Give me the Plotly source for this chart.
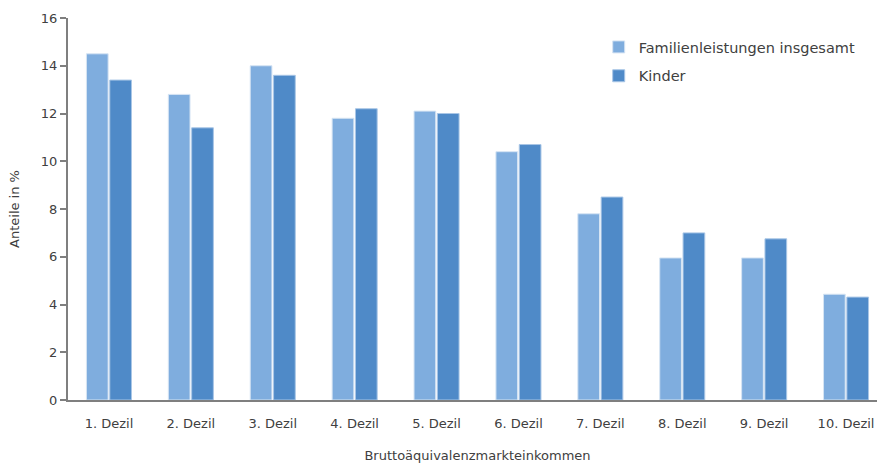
import plotly.graph_objects as go

categories = ["1. Dezil", "2. Dezil", "3. Dezil", "4. Dezil", "5. Dezil",
              "6. Dezil", "7. Dezil", "8. Dezil", "9. Dezil", "10. Dezil"]
familienleistungen = [14.5, 12.8, 14.0, 11.8, 12.1, 10.4, 7.8, 5.95, 5.95, 4.43]
kinder = [13.4, 11.4, 13.6, 12.2, 12.0, 10.7, 8.5, 7.0, 6.75, 4.31]
y_ticks = [0, 2, 4, 6, 8, 10, 12, 14, 16]

font_family = "'DejaVu Sans', Lato, sans-serif"
text_color = "#404040"
axis_color = "#7f7f7f"

fig = go.Figure()
fig.add_trace(go.Bar(
    x=categories, y=familienleistungen, name="Familienleistungen insgesamt",
    marker=dict(color="#7FADDE", line=dict(color="#D6E4F3", width=1)),
    legendgroup="a",
))
fig.add_trace(go.Bar(
    x=categories, y=kinder, name="Kinder",
    marker=dict(color="#4F8AC8", line=dict(color="#A9C6E6", width=1)),
    legendgroup="b",
))

fig.update_layout(
    width=887, height=463,
    margin=dict(l=68, r=0, t=18, b=63, autoexpand=False),
    plot_bgcolor="white", paper_bgcolor="white",
    barmode="group", bargap=0.43, bargroupgap=0.07,
    font=dict(family=font_family, size=13, color=text_color),
    showlegend=True,
    legend=dict(
        x=0.648, y=0.966, xanchor="left", yanchor="top",
        traceorder="grouped", tracegroupgap=7,
        font=dict(size=14.5, color=text_color),
        bgcolor="rgba(0,0,0,0)", itemwidth=30,
    ),
    xaxis=dict(
        automargin=False,
        showline=True, linecolor=axis_color, linewidth=2,
        ticks="outside", ticklen=10, tickcolor="rgba(0,0,0,0)",
        showgrid=False,
        tickfont=dict(size=13, color=text_color),
        title=dict(text="Bruttoäquivalenzmarkteinkommen", standoff=21,
                   font=dict(size=13, color=text_color)),
    ),
    yaxis=dict(
        automargin=False,
        range=[0, 16], tickvals=y_ticks,
        showline=True, linecolor=axis_color, linewidth=2,
        ticks="outside", ticklen=6, tickcolor=axis_color, tickwidth=2,
        showgrid=False, zeroline=False,
        tickfont=dict(size=13, color=text_color),
        title=dict(text="Anteile in %", standoff=18,
                   font=dict(size=13, color=text_color)),
    ),
)

fig.write_html("out.html",
               config={"displayModeBar": False},
               post_script="document.body.style.margin='0';document.body.style.overflow='hidden';")
